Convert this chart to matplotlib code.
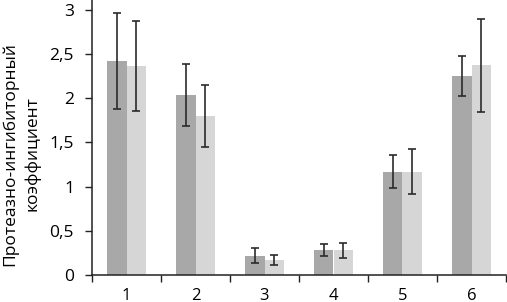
import numpy as np
import matplotlib
matplotlib.use('Agg')
import matplotlib.pyplot as plt

plt.rcParams['font.family'] = ['Open Sans', 'DejaVu Sans']

groups = ['1', '2', '3', '4', '5', '6']
dark = [2.42, 2.04, 0.22, 0.28, 1.17, 2.25]
dark_err = [0.54, 0.35, 0.085, 0.065, 0.19, 0.23]
light = [2.36, 1.80, 0.17, 0.28, 1.17, 2.37]
light_err = [0.51, 0.35, 0.055, 0.085, 0.25, 0.53]
yticks = [0, 0.5, 1, 1.5, 2, 2.5, 3]
ytick_labels = ['0', '0,5', '1', '1,5', '2', '2,5', '3']

fig = plt.figure(figsize=(5.07, 3.02), dpi=100)
ax = fig.add_axes([92/507, 27/302, 414/507, 275/302])

x = np.arange(len(groups))
w = 0.283
ekw = dict(ecolor='#2b2b2b', elinewidth=1.2, capsize=2.8, capthick=1.2)
ax.bar(x - w/2, dark, w, color='#a8a8a8', yerr=dark_err, error_kw=ekw)
ax.bar(x + w/2, light, w, color='#d6d6d6', yerr=light_err, error_kw=ekw)

ax.set_xlim(-0.5, len(groups) - 0.5)
ax.set_ylim(0, 3.11)
ax.set_yticks(yticks)
ax.set_yticklabels(ytick_labels)
ax.set_xticks(x)
ax.set_xticklabels(groups)
ax.set_xticks(np.arange(len(groups) + 1) - 0.5, minor=True)
ax.tick_params(axis='x', which='major', length=0, pad=9, labelsize=12)
ax.tick_params(axis='x', which='minor', length=5, width=1, color='#222222', direction='out')
ax.tick_params(axis='y', length=5, width=1, color='#222222', pad=8, labelsize=12.5)

for s in ['top', 'right']:
    ax.spines[s].set_visible(False)
for s in ['left', 'bottom']:
    ax.spines[s].set_color('#222222')
    ax.spines[s].set_linewidth(1.1)

ax.set_ylabel('Протеазно-ингибиторный\nкоэффициент', fontsize=12.5,
              linespacing=1.5, multialignment='center')
ax.yaxis.set_label_coords(-0.124, 0.44)

fig.savefig('out.png', dpi=100)
